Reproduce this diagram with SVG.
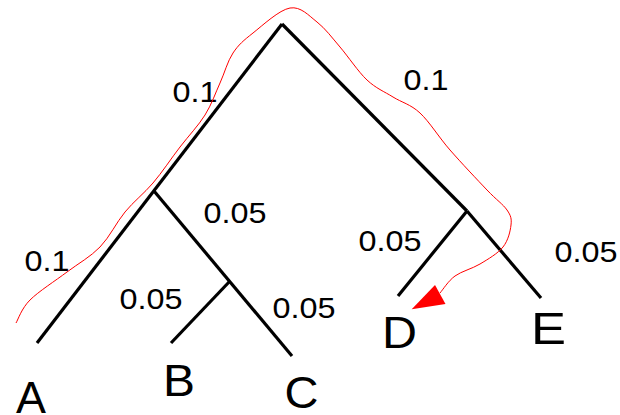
<svg xmlns="http://www.w3.org/2000/svg" width="620" height="415" viewBox="0 0 620 415">
<style>
.br{stroke:#000;stroke-width:3.2;fill:none;stroke-linecap:butt}
.lbl{font-family:"Liberation Sans",Arial,sans-serif;font-size:29.5px;fill:#000}
.leaf{font-family:"Liberation Sans",Arial,sans-serif;font-size:44px;fill:#000}
.red{stroke:#ff0000;stroke-width:1;fill:none}
</style>
<rect width="620" height="415" fill="#fff"/>
<g id="connectors">
<line class="br" x1="282" y1="24" x2="37" y2="343"/>
<line class="br" x1="282" y1="24" x2="467" y2="211"/>
<line class="br" x1="154" y1="191" x2="292" y2="356"/>
<line class="br" x1="230" y1="281" x2="171" y2="343"/>
<line class="br" x1="467" y1="211" x2="398" y2="296"/>
<line class="br" x1="467" y1="211" x2="541" y2="298"/>
</g>
<g id="edge-labels" class="lbl">
<text x="172.5" y="102" textLength="45" lengthAdjust="spacingAndGlyphs">0.1</text>
<text x="403.5" y="90" textLength="45" lengthAdjust="spacingAndGlyphs">0.1</text>
<text x="203.5" y="223" textLength="63" lengthAdjust="spacingAndGlyphs">0.05</text>
<text x="24.5" y="271" textLength="45" lengthAdjust="spacingAndGlyphs">0.1</text>
<text x="119.5" y="309" textLength="63" lengthAdjust="spacingAndGlyphs">0.05</text>
<text x="272.5" y="318" textLength="63" lengthAdjust="spacingAndGlyphs">0.05</text>
<text x="358.5" y="251" textLength="63" lengthAdjust="spacingAndGlyphs">0.05</text>
<text x="554.5" y="262" textLength="63" lengthAdjust="spacingAndGlyphs">0.05</text>
</g>
<g id="node-A"><text class="leaf" x="16" y="413" textLength="30" lengthAdjust="spacingAndGlyphs">A</text></g>
<g id="node-B"><text class="leaf" x="163" y="396" textLength="32" lengthAdjust="spacingAndGlyphs">B</text></g>
<g id="node-C"><text class="leaf" x="284.5" y="408" textLength="34" lengthAdjust="spacingAndGlyphs">C</text></g>
<g id="node-D"><text class="leaf" x="382" y="348" textLength="35" lengthAdjust="spacingAndGlyphs">D</text></g>
<g id="node-E"><text class="leaf" x="531" y="344" textLength="35" lengthAdjust="spacingAndGlyphs">E</text></g>
<g id="annotation">
<path class="red" d="M16,323 C18.3,319.2 21.5,308.5 30,300 C38.5,291.5 55.3,280.8 67,272 C78.7,263.2 90.3,257 100,247 C109.7,237 116.2,222.7 125,212 C133.8,201.3 143.8,193.8 153,183 C162.2,172.2 171.3,158.3 180,147 C188.7,135.7 198.3,125.7 205,115 C211.7,104.3 215.3,93.3 220,83 C224.7,72.7 227.5,61.3 233,53 C238.5,44.7 243.5,40.5 253,33 C262.5,25.5 279.3,9.8 290,8 C300.7,6.2 308.7,15.5 317,22 C325.3,28.5 331.7,37.3 340,47 C348.3,56.7 358.2,71.7 367,80 C375.8,88.3 384.2,91.5 393,97 C401.8,102.5 410.5,104.2 420,113 C429.5,121.8 438.8,137.2 450,150 C461.2,162.8 477.5,180 487,190 C496.5,200 503,204.2 507,210 C511,215.8 511.7,218.8 511,225 C510.3,231.2 508.2,240.5 503,247 C497.8,253.5 488,259.2 480,264 C472,268.8 461.7,271.2 455,276 C448.3,280.8 442.5,290.2 440,293"/>
<polygon points="411.7,309.3 435,285 445.5,304" fill="#ff0000"/>
</g>
</svg>
